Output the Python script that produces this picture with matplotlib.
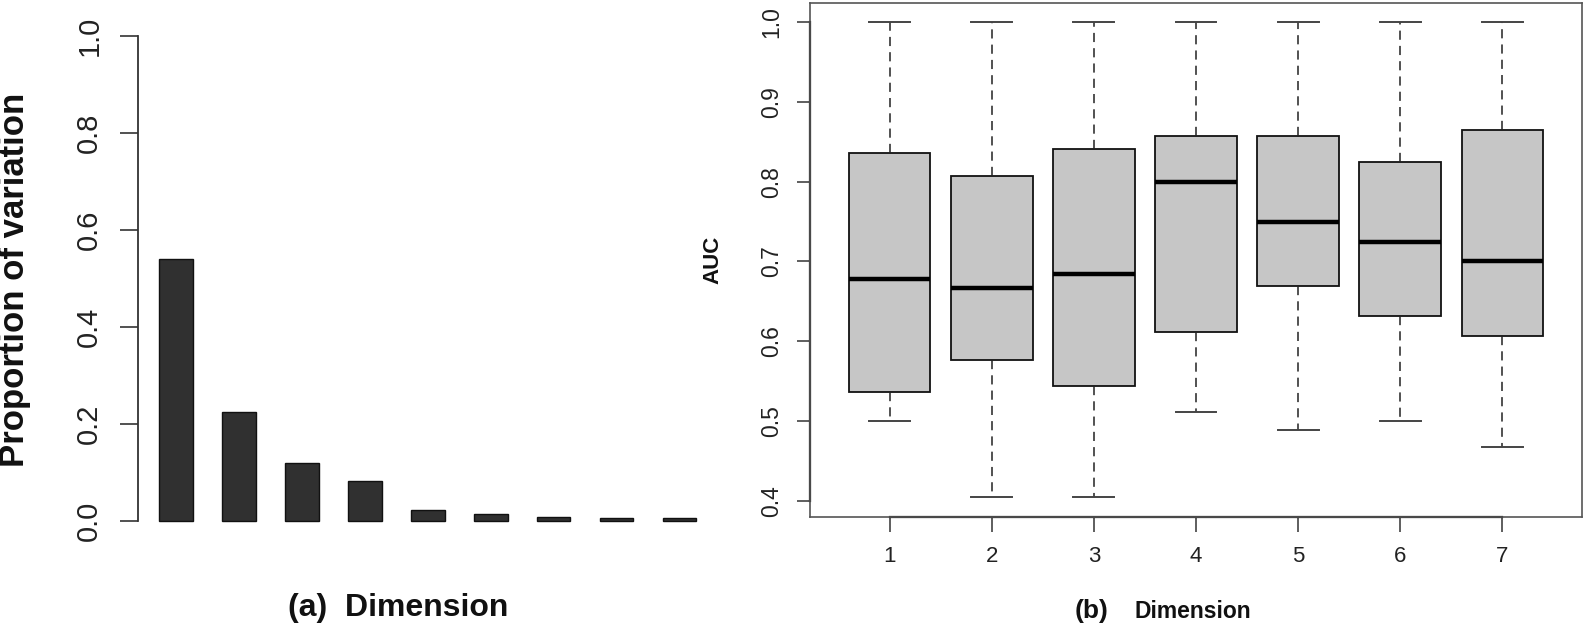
import matplotlib
matplotlib.use("Agg")
import matplotlib.pyplot as plt

plt.rcParams['font.family'] = ['Liberation Sans', 'DejaVu Sans']

# ---- data: panel (a) ----
dims_a = [1, 2, 3, 4, 5, 6, 7, 8, 9]
prop_var = [0.540, 0.225, 0.120, 0.082, 0.022, 0.013, 0.008, 0.006, 0.005]
yticks_a = [0.0, 0.2, 0.4, 0.6, 0.8, 1.0]

# ---- data: panel (b) ----
dims_b = [1, 2, 3, 4, 5, 6, 7]
auc_whislo = [0.500, 0.405, 0.405, 0.511, 0.489, 0.500, 0.467]
auc_q1 = [0.536, 0.576, 0.544, 0.612, 0.669, 0.632, 0.607]
auc_med = [0.678, 0.667, 0.684, 0.800, 0.750, 0.724, 0.700]
auc_q3 = [0.836, 0.807, 0.841, 0.857, 0.857, 0.824, 0.865]
auc_whishi = [1.0, 1.0, 1.0, 1.0, 1.0, 1.0, 1.0]
yticks_b = [0.4, 0.5, 0.6, 0.7, 0.8, 0.9, 1.0]

W, H = 1587, 632
fig = plt.figure(figsize=(W / 100, H / 100), dpi=100)


def px_axes(left, top, right, bottom):
    return fig.add_axes([left / W, 1 - bottom / H, (right - left) / W, (bottom - top) / H])


# ================= panel (a) =================
unit_y = 484.7
axA = px_axes(138, 36 - 0.04 * unit_y, 717.5, 520.7 + 0.04 * unit_y)
axA.bar(dims_a, prop_var, width=0.53, color='#303030', edgecolor='#111111', linewidth=1.0)
axA.set_xlim(0.3965, 9.6)
axA.set_ylim(-0.04, 1.04)
for s in ['top', 'right', 'bottom']:
    axA.spines[s].set_visible(False)
axA.spines['left'].set_bounds(0, 1)
axA.spines['left'].set_color('#333333')
axA.spines['left'].set_linewidth(1.3)
axA.set_xticks([])
axA.set_yticks(yticks_a)
axA.set_yticklabels([f"{v:.1f}" for v in yticks_a], rotation=90, va='center')
axA.tick_params(axis='y', length=13, width=1.2, color='#333333', pad=12,
                labelsize=21, labelcolor='#222222')
fig.text(15 / W, 1 - 280 / H, "Proportion of variation", rotation=90, ha='center',
         va='center', fontsize=25, fontweight='bold', color='#111111')
fig.text(398.5 / W, 1 - 616 / H, "(a)  Dimension", ha='center', va='baseline',
         fontsize=23, fontweight='bold', color='#111111')

# ================= panel (b) =================
axB = px_axes(810, 3, 1582, 517)
stats = []
for i in range(len(dims_b)):
    stats.append(dict(whislo=auc_whislo[i], q1=auc_q1[i], med=auc_med[i],
                      q3=auc_q3[i], whishi=auc_whishi[i], fliers=[]))
axB.bxp(stats, positions=dims_b, widths=0.8, showfliers=False, patch_artist=True,
        boxprops=dict(facecolor='#c6c6c6', edgecolor='#111111', linewidth=1.3),
        medianprops=dict(color='black', linewidth=3.2, solid_capstyle='butt'),
        whiskerprops=dict(color='#222222', linewidth=1.1, linestyle=(0, (6, 4))),
        capprops=dict(color='#444444', linewidth=1.4))
ymax_b = 1.0 + 19 / 798
ymin_b = ymax_b - 514 / 798
axB.set_xlim(0.22, 7.78)
axB.set_ylim(ymin_b, ymax_b)
for s in axB.spines.values():
    s.set_color('#555555')
    s.set_linewidth(1.2)
axB.set_xticks(dims_b)
axB.set_xticklabels([str(d) for d in dims_b])
axB.set_yticks(yticks_b)
axB.set_yticklabels([f"{v:.1f}" for v in yticks_b], rotation=90, va='center')
axB.tick_params(axis='y', length=9.4, width=1.1, color='#333333', pad=10,
                labelsize=16.5, labelcolor='#222222')
axB.tick_params(axis='x', length=10.8, width=1.1, color='#333333', pad=10,
                labelsize=16, labelcolor='#222222')
# R-style axis lines spanning first to last tick
axB.plot([0, 0], [yticks_b[0], yticks_b[-1]], transform=axB.get_yaxis_transform(),
         color='#111111', linewidth=1.6, clip_on=False)
axB.plot([dims_b[0], dims_b[-1]], [0, 0], transform=axB.get_xaxis_transform(),
         color='#111111', linewidth=1.6, clip_on=False)

fig.text(713 / W, 1 - 260 / H, "AUC", rotation=90, ha='center', va='center',
         fontsize=16, fontweight='bold', color='#111111')
fig.text(1075 / W, 1 - 618 / H, "(b)", ha='left', va='baseline',
         fontsize=19, fontweight='bold', color='#111111')
fig.text(1135 / W, 1 - 618 / H, "Dimension", ha='left', va='baseline',
         fontsize=16.5, fontweight='bold', color='#111111')

fig.savefig("out.png", dpi=100)
